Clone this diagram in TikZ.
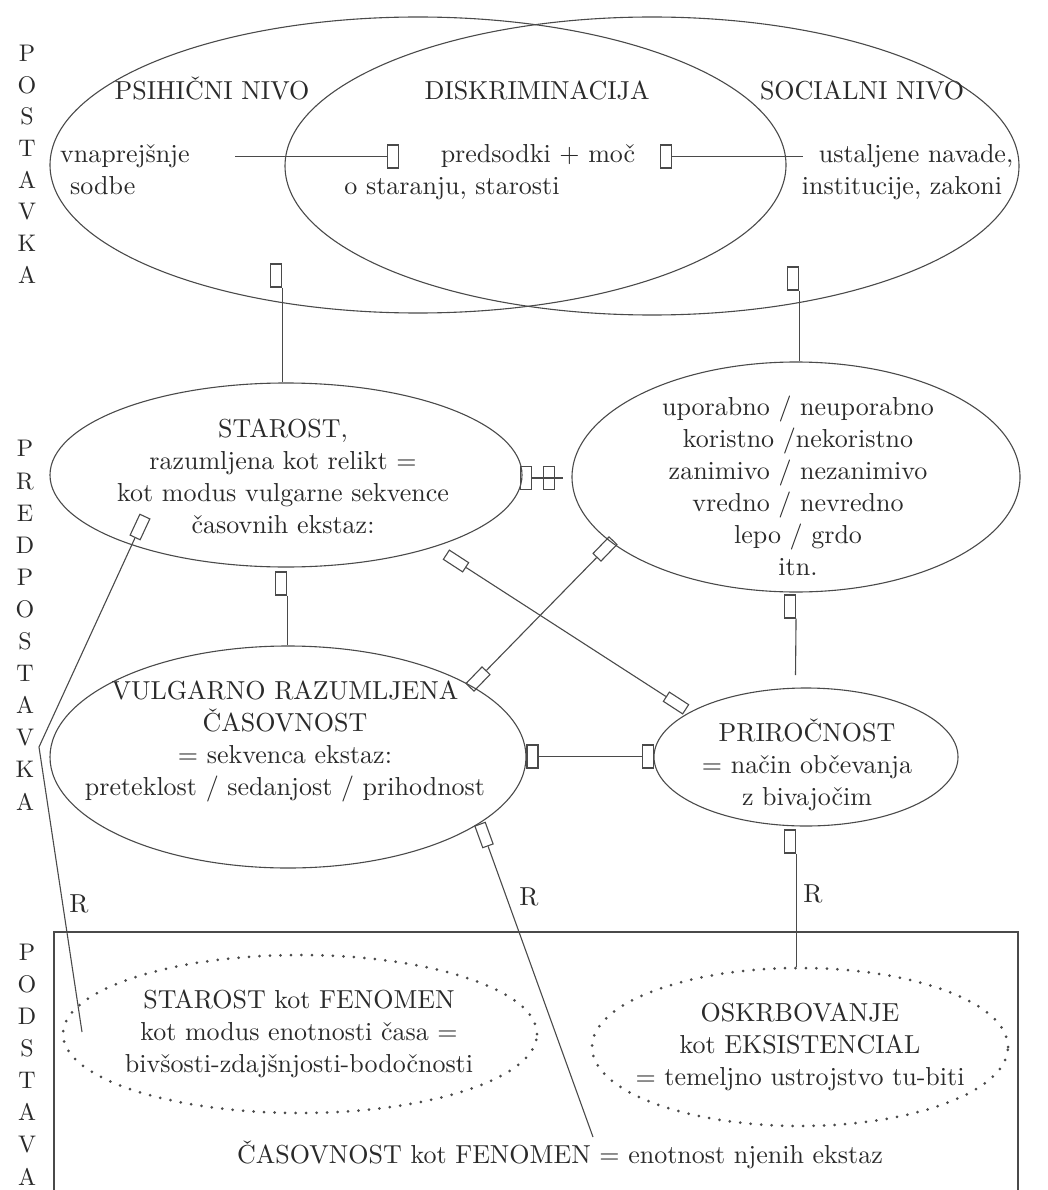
\documentclass[tikz,border=0pt]{standalone}
\usepackage{fontspec}
\setmainfont{lmroman10-regular}[Extension=.otf]
\usetikzlibrary{shapes.geometric}
\definecolor{ink}{HTML}{2a2a2a}
\definecolor{ln}{HTML}{4a4a4a}
\begin{document}
\begin{tikzpicture}[x=1pt,y=-1pt,
  txt/.style={text=ink, font=\fontsize{26}{32}\selectfont, inner sep=0pt, align=center, anchor=base},
  col/.style={text=ink, inner sep=0pt, align=center, anchor=base},
  ell/.style={ellipse, draw=ln, line width=1.1pt, inner sep=0pt},
  dotell/.style={ellipse, draw=ln, line width=3pt, dash pattern=on 0pt off 10.5pt, line cap=round, inner sep=0pt},
  hbox/.style={rectangle, draw=ln, line width=1.1pt, minimum width=23pt, minimum height=11pt, inner sep=0pt},
  vbox/.style={rectangle, draw=ln, line width=1.1pt, minimum width=11pt, minimum height=23pt, inner sep=0pt},
  conn/.style={draw=ln, line width=1.1pt},
]
\useasboundingbox (0,0) rectangle (1048,1190);
\fill[white] (0,0) rectangle (1048,1190);

% ellipses
\node[ell, minimum width=736pt, minimum height=296pt] (A) at (418,165) {};
\node[ell, minimum width=734pt, minimum height=298pt] (B) at (652,166) {};
\node[ell, minimum width=472pt, minimum height=184pt] (S) at (286,475) {};
\node[ell, minimum width=448pt, minimum height=230pt] (U) at (796,477) {};
\node[ell, minimum width=476pt, minimum height=222pt] (V) at (288,757) {};
\node[ell, minimum width=304pt, minimum height=138pt] (P) at (806,757) {};
\node[dotell, minimum width=474pt, minimum height=158pt] (D1) at (300,1034) {};
\node[dotell, minimum width=416pt, minimum height=158pt] (D2) at (800,1047) {};

% frame
\draw[conn] (54,1190) -- (54,932) -- (1018,932) -- (1018,1190);

% left columns (anchored at the baseline of the last letter)
\node[col, font=\fontsize{24}{31.6}\selectfont] (colA) at (27,283) {P\\O\\S\\T\\A\\V\\K\\A};
\node[col, font=\fontsize{24}{32.1}\selectfont] (colB) at (25,810) {P\\R\\E\\D\\P\\O\\S\\T\\A\\V\\K\\A};
\node[col, font=\fontsize{24}{32.1}\selectfont] (colC) at (27,1185) {P\\O\\D\\S\\T\\A\\V\\A};

% top texts
\node[txt] (tPsi) at (212,100) {PSIHIČNI NIVO};
\node[txt] (tDis) at (537,100) {DISKRIMINACIJA};
\node[txt] (tSoc) at (862,100) {SOCIALNI NIVO};
\node[txt, anchor=base west] (tVn) at (60,163) {vnaprejšnje};
\node[txt, anchor=base west] (tSo) at (70,195) {sodbe};
\node[txt] (tPr) at (538,163) {predsodki + moč};
\node[txt] (tOs) at (452,195) {o staranju, starosti};
\node[txt] (tUs) at (916,163) {ustaljene navade,};
\node[txt] (tIn) at (902,195) {institucije, zakoni};

% ellipse texts (anchored at the baseline of the last line)
\node[txt] (tS) at (283,533) {STAROST,\\razumljena kot relikt =\\kot modus vulgarne sekvence\\časovnih ekstaz:};
\node[txt] (tU) at (798,575) {uporabno / neuporabno\\koristno /nekoristno\\zanimivo / nezanimivo\\vredno / nevredno\\lepo / grdo\\itn.};
\node[txt] (tV) at (285,795) {VULGARNO RAZUMLJENA\\ČASOVNOST\\= sekvenca ekstaz:\\preteklost / sedanjost / prihodnost};
\node[txt] (tP) at (807,805) {PRIROČNOST\\= način občevanja\\z bivajočim};
\node[txt] (tD1) at (299,1072) {STAROST kot FENOMEN\\kot modus enotnosti časa =\\bivšosti-zdajšnjosti-bodočnosti};
\node[txt] (tD2) at (800,1085) {OSKRBOVANJE\\kot EKSISTENCIAL\\= temeljno ustrojstvo tu-biti};
\node[txt] (tC) at (560,1163) {ČASOVNOST kot FENOMEN = enotnost njenih ekstaz};

% R labels
\node[txt] (R1) at (79,912) {R};
\node[txt] (R2) at (529,905) {R};
\node[txt] (R3) at (813,902) {R};

% boxes
\node[vbox] (b1) at (393,156.5) {};
\node[vbox] (b2) at (666,156.5) {};
\node[vbox] (b3) at (276,275.5) {};
\node[vbox] (b4) at (793,278.5) {};
\node[vbox] (b5) at (526,478) {};
\node[vbox] (b6) at (549,478) {};
\node[vbox] (b7) at (281,583.5) {};
\node[hbox, rotate=-33] (b8) at (456,561) {};
\node[hbox, rotate=-33] (b9) at (676,703) {};
\node[hbox, rotate=46] (b10) at (478,679) {};
\node[hbox, rotate=46] (b11) at (605,549) {};
\node[hbox, rotate=65] (b12) at (140,527) {};
\node[hbox, rotate=-70] (b13) at (484,835) {};
\node[vbox] (b14) at (532.5,756.5) {};
\node[vbox] (b15) at (648,756.5) {};
\node[vbox] (b16) at (790,606.5) {};
\node[vbox] (b17) at (790,841.5) {};

% free ends
\coordinate (e1) at (235,156.5);
\coordinate (e2) at (803,156.5);
\coordinate (e5) at (563,478);
\coordinate (e16) at (795.5,675);
\coordinate (k1) at (39,747);
\coordinate (k2) at (82,1032);
\coordinate (k3) at (593,1137);

% connectors
\draw[conn] (e1) -- (b1);
\draw[conn] (b2) -- (e2);
\draw[conn] (b3.south east) -- (b3.south east |- S.north);
\draw[conn] (b4.south east) -- (b4.south east |- U.north);
\draw[conn] (b5) -- (e5);
\draw[conn] (b7.south east) -- (b7.south east |- V.north);
\draw[conn] (b8) -- (b9);
\draw[conn] (b10) -- (b11);
\draw[conn] (b12) -- (k1) -- (k2);
\draw[conn] (b13) -- (k3);
\draw[conn] (b14) -- (b15);
\draw[conn] (b16.south east) -- (e16);
\draw[conn] (b17.south east) -- (b17.south east |- D2.north);
\end{tikzpicture}
\end{document}
